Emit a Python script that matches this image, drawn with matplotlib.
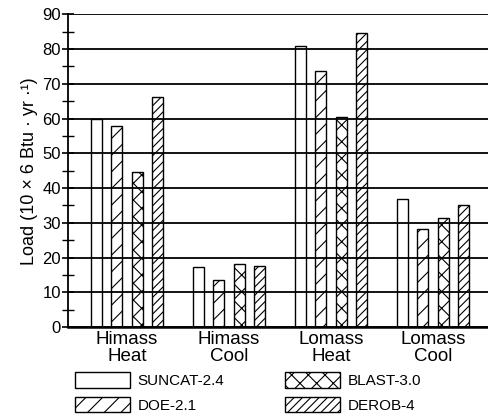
import numpy as np
import matplotlib.pyplot as plt
from matplotlib.patches import Patch
from matplotlib.ticker import MultipleLocator

plt.rcParams["font.family"] = ["Liberation Sans", "DejaVu Sans"]
plt.rcParams["hatch.linewidth"] = 0.8

groups = ["Himass\nHeat", "Himass\nCool", "Lomass\nHeat", "Lomass\nCool"]
programs = ["SUNCAT-2.4", "DOE-2.1", "BLAST-3.0", "DEROB-4"]
suncat = [60.0, 17.2, 81.0, 36.8]
doe = [57.8, 13.5, 73.6, 28.1]
blast = [44.6, 18.3, 60.4, 31.5]
derob = [66.3, 17.7, 84.6, 35.1]
hatches = ["", "//", "xx", "////"]


def main():
    fig = plt.figure(figsize=(4.88, 4.2), dpi=100)
    ax = fig.add_axes([0.139, 0.221, 0.861, 0.745])

    x = np.arange(len(groups))
    series = [suncat, doe, blast, derob]
    for j, (vals, h) in enumerate(zip(series, hatches)):
        ax.bar(x + (j - 1.5) * 0.2, vals, width=0.108, facecolor="none",
               edgecolor="black", linewidth=1.0, hatch=h, zorder=2)

    ax.set_xlim(-0.58, 3.54)
    ax.set_ylim(0, 90)
    ax.yaxis.set_major_locator(MultipleLocator(10))
    ax.yaxis.set_minor_locator(MultipleLocator(5))
    ax.grid(axis="y", color="black", linewidth=1.3, zorder=1)
    ax.set_axisbelow(False)
    for s in ["top", "right"]:
        ax.spines[s].set_visible(False)
    ax.spines["left"].set_linewidth(1.3)
    ax.spines["bottom"].set_linewidth(1.8)
    ax.tick_params(axis="y", which="both", direction="inout", labelsize=12, pad=1)
    ax.tick_params(axis="y", which="major", length=8, width=1.2)
    ax.tick_params(axis="y", which="minor", length=8, width=1.0)
    ax.set_xticks(x)
    ax.set_xticklabels(groups, fontsize=13.5, linespacing=0.95)
    ax.tick_params(axis="x", length=0, pad=3)
    ax.set_ylabel("Load (10 × 6 Btu · yr ·¹)", fontsize=13, labelpad=3)

    handles = [Patch(facecolor="white", edgecolor="black", hatch=h, linewidth=1.0)
               for h in hatches]
    fig.legend(handles, programs, loc="lower left", bbox_to_anchor=(0.125, -0.015),
               ncol=2, frameon=False, fontsize=11, handlelength=3.6,
               handleheight=1.2, handletextpad=0.5, columnspacing=4.0,
               labelspacing=0.55)

    fig.savefig("out.png", dpi=100)


if __name__ == "__main__":
    main()
